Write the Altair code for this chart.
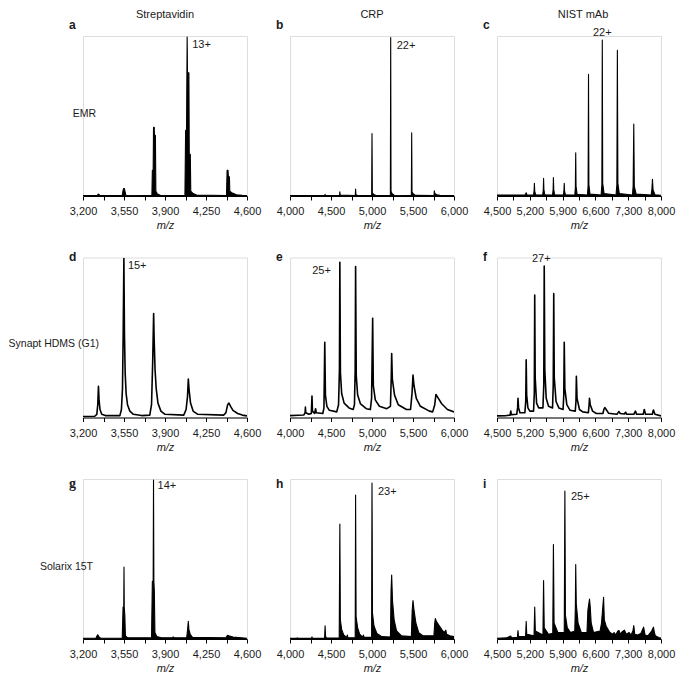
import altair as alt
import pandas as pd

# ---------------- data ----------------
COLUMN_TITLES = ["Streptavidin", "CRP", "NIST mAb"]
ROW_LABELS = ["EMR", "Synapt HDMS (G1)", "Solarix 15T"]
PANEL_LETTERS = [["a", "b", "c"], ["d", "e", "f"], ["g", "h", "i"]]

X_DOMAINS = [[3200, 4600], [4000, 6000], [4500, 8000]]
MAJOR_TICKS = [[3200, 3550, 3900, 4250, 4600],
               [4000, 4500, 5000, 5500, 6000],
               [4500, 5200, 5900, 6600, 7300, 8000]]
MINOR_TICKS = [[3375, 3725, 4075, 4425],
               [4250, 4750, 5250, 5750],
               [4850, 5550, 6250, 6950, 7650]]

CHARGE_TEXT = [["13+", "22+", "22+"], ["15+", "25+", "27+"], ["14+", "23+", "25+"]]
CHARGE_MZ = [[4089, 5228, 6747], [3549, 4608, 5508], [3802, 5000, 5949]]
CHARGE_INT = [[99.4, 99, 97.5], [99.4, 97, 94.6], [99.4, 97.5, 92.4]]

# spectra: (m/z, relative intensity) traced vertices
SPEC_A = [(3200, 0.3), (3322, 0.3), (3330, 1.2), (3336, 1.0), (3345, 0.3), (3535, 0.3), (3542, 3.5),
          (3547, 4.7), (3553, 4.7), (3558, 3.0), (3566, 0.5), (3788, 0.3), (3792, 16), (3799, 16),
          (3802, 43), (3808, 43), (3810, 38), (3818, 38), (3822, 3), (3835, 1.2), (3860, 0.4),
          (4070, 0.3), (4076, 41), (4084, 41), (4089, 99.4), (4092, 77), (4104, 77), (4107, 26),
          (4116, 26), (4120, 3), (4140, 1.5), (4170, 0.6), (4425, 0.3), (4430, 16), (4438, 16),
          (4441, 12), (4450, 12), (4453, 3), (4475, 1.8), (4510, 0.8), (4560, 0.4), (4600, 0.3)]
SPEC_B = [(4000, 0.3), (4424, 0.3), (4428, 1), (4432, 0.3), (4604, 0.3), (4608, 2.7), (4612, 0.6),
          (4796, 0.3), (4800, 4.3), (4804, 0.8), (4820, 0.4), (4996, 0.3), (5000, 39), (5004, 2),
          (5020, 1), (5045, 0.4), (5224, 0.3), (5228, 99), (5232, 3), (5245, 1.5), (5270, 0.5),
          (5480, 0.3), (5484, 39.5), (5488, 2.5), (5505, 1.2), (5530, 0.4), (5756, 0.3), (5760, 3.3),
          (5766, 1.5), (5790, 0.8), (5830, 0.4), (6000, 0.3)]
SPEC_C = [(4500, 0.6), (5100, 0.6), (5123, 2), (5140, 0.6), (5280, 0.6), (5293, 4), (5298, 8), (5305, 3),
          (5325, 0.8), (5475, 0.6), (5488, 4), (5494, 11), (5501, 4), (5520, 0.8), (5685, 0.6),
          (5698, 4), (5704, 11.5), (5711, 4), (5730, 0.8), (5915, 0.6), (5928, 3), (5935, 8),
          (5942, 3), (5960, 0.8), (6160, 0.6), (6172, 5), (6180, 27), (6187, 6), (6210, 1),
          (6430, 0.6), (6444, 6), (6453, 76), (6461, 7), (6485, 1.2), (6722, 0.6), (6738, 7),
          (6747, 97.5), (6756, 8), (6785, 1.5), (7040, 0.6), (7058, 7), (7069, 91), (7080, 8),
          (7110, 1.5), (7390, 0.6), (7405, 6), (7419, 45), (7430, 6), (7470, 1.2), (7790, 0.6),
          (7805, 4), (7818, 10.5), (7830, 4), (7870, 0.8), (8000, 0.5)]
SPEC_D = [(3200, 0.6), (3300, 0.8), (3318, 2), (3326, 8), (3332, 19.5), (3337, 11), (3345, 5),
          (3360, 2), (3390, 1.2), (3515, 1.2), (3528, 5), (3537, 18), (3543, 52), (3549, 99.4),
          (3554, 52), (3560, 28), (3568, 15), (3580, 8), (3600, 4), (3630, 2), (3700, 1.2),
          (3770, 1.5), (3785, 8), (3795, 35), (3803, 65), (3807, 50), (3815, 30), (3825, 18),
          (3840, 9), (3865, 4), (3900, 2), (4060, 1.5), (4080, 5), (4092, 13), (4099, 24),
          (4106, 17), (4118, 9), (4140, 4), (4180, 2), (4400, 1.5), (4420, 3), (4435, 8),
          (4446, 9), (4460, 7), (4480, 4.5), (4520, 2.5), (4560, 1.5), (4600, 1)]
SPEC_E = [(4000, 1.2), (4100, 1.4), (4170, 1.6), (4184, 3), (4188, 6.6), (4192, 3), (4230, 2),
          (4260, 2.5), (4268, 13.4), (4274, 4), (4300, 2.5), (4312, 5.5), (4320, 3), (4400, 2.5),
          (4414, 6), (4424, 47), (4432, 14), (4450, 7), (4480, 4.5), (4570, 3.5), (4592, 8),
          (4603, 30), (4608, 97), (4615, 28), (4630, 15), (4660, 9), (4720, 6), (4770, 5),
          (4786, 8), (4795, 30), (4800, 94.4), (4808, 26), (4825, 14), (4860, 8.5), (4930, 5.5),
          (4980, 5), (4995, 12), (5008, 62), (5016, 20), (5040, 11), (5090, 7), (5180, 5.5),
          (5225, 7), (5235, 25), (5240, 40), (5248, 24), (5275, 14), (5320, 8), (5420, 5),
          (5470, 5), (5488, 15), (5500, 26.5), (5512, 20), (5540, 12), (5590, 7), (5700, 4),
          (5740, 3.5), (5765, 8), (5780, 14.4), (5800, 12.7), (5850, 8.6), (5920, 5), (6000, 3.5)]
SPEC_F = [(4500, 1), (4700, 1.2), (4780, 1.5), (4794, 4), (4805, 1.8), (4920, 2), (4940, 6),
          (4948, 12), (4960, 6), (4990, 3), (5095, 3), (5113, 10), (5123, 36), (5133, 14),
          (5160, 6), (5200, 4), (5280, 4), (5296, 15), (5305, 76.5), (5315, 25), (5345, 9),
          (5390, 6), (5480, 6), (5498, 20), (5508, 94.6), (5520, 30), (5550, 12), (5600, 7),
          (5685, 6), (5700, 20), (5711, 77.4), (5722, 25), (5760, 10), (5820, 6), (5910, 5),
          (5925, 14), (5935, 47), (5948, 18), (5990, 8), (6060, 4.5), (6170, 4), (6185, 10),
          (6194, 25.7), (6208, 12), (6260, 5), (6330, 3.5), (6450, 3), (6465, 8), (6474, 12),
          (6490, 8), (6540, 4), (6620, 2.5), (6760, 2.5), (6780, 5), (6800, 6.2), (6830, 5),
          (6880, 2.7), (7060, 2), (7090, 3.2), (7104, 3.7), (7130, 2.5), (7220, 2.2), (7244, 3.3),
          (7270, 2), (7420, 2), (7445, 3.5), (7454, 4), (7480, 2), (7620, 2), (7635, 4), (7643, 5),
          (7670, 2), (7815, 2), (7830, 4), (7839, 4.7), (7870, 2), (8000, 1)]
SPEC_G = [(3200, 0.5), (3310, 0.5), (3320, 2), (3326, 2.7), (3335, 1.5), (3350, 0.5), (3535, 0.5),
          (3542, 20), (3548, 20), (3550, 45), (3552, 20), (3557, 15), (3562, 2), (3580, 0.8),
          (3785, 0.8), (3792, 36), (3799, 36), (3802, 99.4), (3805, 36), (3809, 30), (3814, 4),
          (3830, 1.5), (3870, 0.8), (3965, 0.8), (3970, 1.3), (3975, 0.8), (4085, 0.8), (4093, 6),
          (4099, 11), (4104, 6), (4115, 3), (4135, 1), (4420, 0.8), (4433, 2.3), (4445, 2),
          (4480, 1.2), (4600, 0.5)]
SPEC_H = [(4000, 0.4), (4084, 0.4), (4088, 0.8), (4092, 0.4), (4264, 0.4), (4268, 1.4), (4272, 0.4),
          (4422, 0.4), (4428, 8.2), (4434, 1.5), (4445, 0.6), (4600, 0.6), (4608, 71.8), (4614, 12),
          (4630, 6), (4655, 2.5), (4690, 1), (4700, 2.5), (4706, 0.8), (4795, 0.8), (4800, 90),
          (4806, 14), (4825, 7), (4850, 3), (4885, 1.2), (4896, 2.5), (4902, 1), (4995, 1),
          (5000, 97.5), (5006, 16), (5025, 8), (5060, 3.5), (5120, 1.5), (5225, 1.2), (5232, 30),
          (5240, 40), (5250, 24), (5270, 12), (5300, 5), (5360, 2), (5480, 1.5), (5490, 18),
          (5500, 24), (5510, 19), (5535, 10), (5570, 4), (5620, 2), (5755, 2), (5765, 10),
          (5772, 12.8), (5785, 11), (5810, 9), (5850, 6), (5880, 4), (5900, 5.5), (5910, 3),
          (5950, 2), (6000, 1.5)]
SPEC_I = [(4500, 0.5), (4700, 0.7), (4794, 1.9), (4810, 0.8), (4935, 1), (4948, 5.3), (4960, 1.5),
          (5110, 1.5), (5123, 11), (5135, 3), (5290, 2), (5305, 20), (5318, 5), (5480, 2.5),
          (5494, 36.6), (5508, 7), (5600, 3), (5690, 3.5), (5704, 59), (5718, 10), (5800, 4),
          (5935, 4), (5949, 92.4), (5960, 15), (6000, 7), (6070, 4), (6160, 5), (6172, 20),
          (6180, 46.5), (6192, 22), (6230, 10), (6300, 4), (6420, 4), (6440, 18), (6474, 25),
          (6490, 20), (6510, 10), (6560, 4), (6700, 5), (6730, 10), (6775, 26), (6790, 12),
          (6830, 8), (6900, 4.5), (6960, 3), (7000, 4), (7030, 2.5), (7080, 5), (7104, 5.3),
          (7130, 3), (7170, 4.5), (7220, 5.5), (7260, 3), (7320, 4), (7360, 2.5), (7400, 5),
          (7419, 8.4), (7440, 3), (7500, 2.5), (7570, 3.5), (7629, 7.4), (7660, 2.5), (7720, 2),
          (7800, 5), (7839, 7.4), (7860, 4), (7880, 2), (7950, 1), (8000, 0.5)]

SPECTRA = [[SPEC_A, SPEC_B, SPEC_C], [SPEC_D, SPEC_E, SPEC_F], [SPEC_G, SPEC_H, SPEC_I]]

# ---------------- layout / style ----------------
PW, PH = 164, 160
FONT = "Liberation Sans"
INK = "#1a1a1a"
ROW_FILLED = [True, False, True]
ROW_STROKE = [1.1, 1.6, 1.1]
# (align, dx, dy) for charge-state labels
CHARGE_STYLE = [[("left", 5, 8), ("left", 6, 8), ("center", 0, -7)],
                [("left", 4, 8), ("right", -9, 9), ("center", -3, -7)],
                [("left", 4, 6), ("left", 6, 9), ("left", 6, 6)]]
LETTER_Y = [-7, 3, 9]
ROW_LABEL_POS = [(13, 78), (16, 86), (10, 88)]
TITLE_DX = [0, 0, 4]


def const_text(t, x, y, **kw):
    return alt.Chart(pd.DataFrame({"t": [t]})).mark_text(**kw).encode(
        text="t:N", x=alt.value(x), y=alt.value(y))


def panel(r, c):
    lo, hi = X_DOMAINS[c]
    ticks = sorted(MAJOR_TICKS[c] + MINOR_TICKS[c])
    majors = ",".join(str(v) for v in MAJOR_TICKS[c])
    x = alt.X("mz:Q", scale=alt.Scale(domain=[lo, hi], nice=False, zero=False),
              axis=alt.Axis(values=ticks, title="m/z",
                            labelExpr=f"indexof([{majors}], datum.value) >= 0 ? format(datum.value, ',') : ''"))
    y = alt.Y("intensity:Q", scale=alt.Scale(domain=[0, 100], nice=False), axis=None)
    df = pd.DataFrame(SPECTRA[r][c], columns=["mz", "intensity"])
    base = alt.Chart(df).encode(x=x, y=y)
    layers = []
    if ROW_FILLED[r]:
        layers.append(base.mark_area(color="black", opacity=1, clip=True))
    layers.append(base.mark_line(color="black", strokeWidth=ROW_STROKE[r], strokeJoin="round",
                                 clip=True))

    align, dx, dy = CHARGE_STYLE[r][c]
    ann_df = pd.DataFrame({"mz": [CHARGE_MZ[r][c]], "intensity": [CHARGE_INT[r][c]],
                           "t": [CHARGE_TEXT[r][c]]})
    layers.append(alt.Chart(ann_df).mark_text(font=FONT, fontSize=11, color=INK, align=align,
                                              baseline="middle", dx=dx, dy=dy)
                  .encode(x=x, y=y, text="t:N"))

    letter = PANEL_LETTERS[r][c]
    lfont = "Liberation Serif" if letter == "g" else FONT
    lsize = 14 if letter == "g" else 12
    layers.append(const_text(letter, -14, LETTER_Y[r], font=lfont, fontSize=lsize, fontWeight="bold",
                             color=INK, align="left", baseline="alphabetic"))
    if r == 0:
        layers.append(const_text(COLUMN_TITLES[c], PW / 2 + TITLE_DX[c], -27, font=FONT, fontSize=11,
                                 color=INK, align="center", baseline="top"))
    if c == 0:
        lx, ly = ROW_LABEL_POS[r]
        layers.append(const_text(ROW_LABELS[r], lx, ly, font=FONT, fontSize=10.5, color=INK,
                                 align="right", baseline="middle"))
    return alt.layer(*layers).properties(width=PW, height=PH)


panels = [panel(r, c) for r in range(3) for c in range(3)]
chart = alt.concat(*panels, columns=3, spacing={"row": 61.5, "column": 43}, bounds="flush")
chart = chart.properties(padding=0)
chart = chart.configure_view(strokeWidth=0).configure(font=FONT).configure_axis(
    grid=False, domainColor="black", domainWidth=1, tickColor="black", tickSize=4, tickWidth=1,
    labelFont=FONT, labelFontSize=11, labelColor=INK, labelPadding=5.5, labelFlush=False,
    labelOverlap=False, titleFont=FONT, titleFontSize=11, titleFontWeight="normal",
    titleFontStyle="italic", titleColor=INK, titlePadding=3)

chart.save("out.html", embed_options={"renderer": "svg", "actions": False})
